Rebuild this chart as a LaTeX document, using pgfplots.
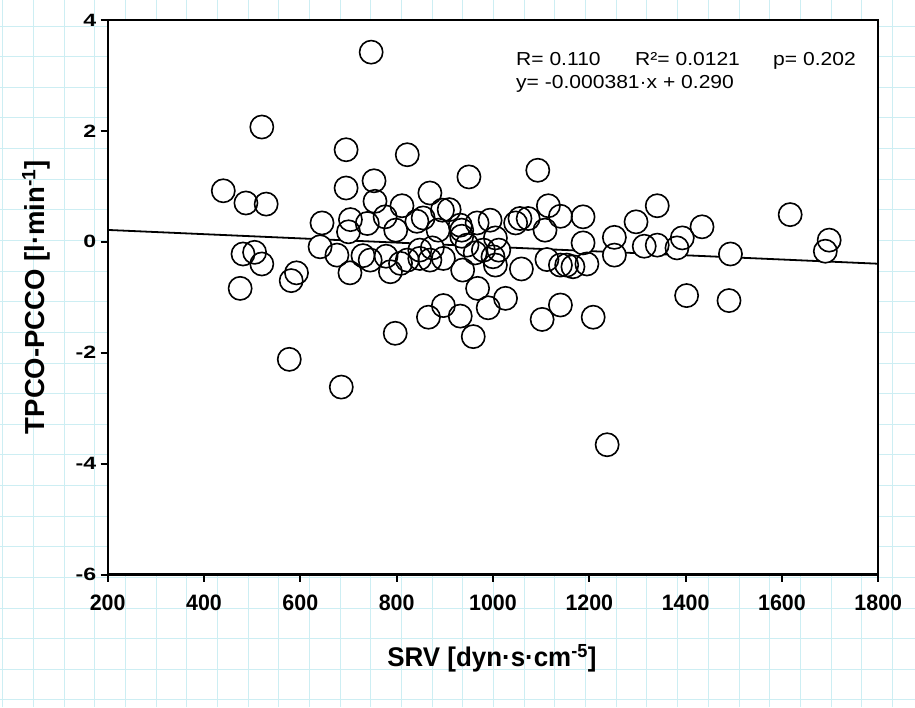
\documentclass[border=0pt]{standalone}
\usepackage{pgfplots}
\pgfplotsset{compat=1.18}
\usepackage{fontspec}
\setmainfont{Liberation Sans}
\newfontfamily\xfont[FakeStretch=0.96]{Liberation Sans}
\newfontfamily\annfont[FakeStretch=1.12]{Liberation Sans}
\newcommand\ys[1]{\scalebox{1.3}[1]{#1}}
\definecolor{paper}{RGB}{205,238,243}
\pgfplotstableread{
x y
747 3.42
520 2.07
695 1.66
822 1.57
1093 1.29
950 1.17
753 1.10
695 0.97
440 0.92
869 0.88
487 0.70
529 0.68
1341 0.65
1617 0.49
1434 0.27
1297 0.36
1698 0.03
1690 -0.17
1493 -0.22
1393 0.07
1382 -0.11
1314 -0.08
1341 -0.06
1252 0.08
1252 -0.24
481 -0.22
505 -0.19
520 -0.40
475 -0.84
592 -0.56
581 -0.70
577 -2.12
685 -2.62
797 -1.65
866 -1.36
897 -1.15
932 -1.34
959 -1.71
968 -0.84
990 -1.19
1026 -1.02
1102 -1.40
1140 -1.14
1208 -1.36
1402 -0.97
1490 -1.06
1237 -3.66
755 0.73
811 0.65
645 0.34
704 0.40
739 0.33
776 0.45
798 0.21
700 0.18
842 0.37
855 0.43
895 0.57
909 0.58
641 -0.09
676 -0.24
730 -0.25
745 -0.33
778 -0.26
703 -0.56
787 -0.54
808 -0.39
848 -0.15
848 -0.30
874 -0.11
886 0.21
897 -0.30
935 0.21
935 0.10
932 0.30
967 0.34
994 0.39
1047 0.34
1056 0.42
1073 0.42
1115 0.65
1140 0.46
1187 0.45
1108 0.21
1187 -0.02
1005 0.07
946 -0.06
963 -0.20
980 -0.15
1012 -0.15
1000 -0.27
937 -0.51
1005 -0.42
1059 -0.49
1112 -0.32
1140 -0.42
1153 -0.42
1166 -0.45
1195 -0.40
822 -0.33
869 -0.33
}\pts
\begin{document}
\begin{tikzpicture}[x=1pt,y=1pt]
\path[use as bounding box] (0,0) rectangle (915,707);
\foreach \k in {0,...,29}{\draw[paper,line width=1pt] ({2.7+30.68*\k},0) -- ({2.7+30.68*\k},707);}
\foreach \k in {0,...,22}{\draw[paper,line width=1pt] (0,{707-26.1-30.63*\k}) -- (915,{707-26.1-30.63*\k});}
\begin{axis}[
  at={(107.7pt,132.5pt)}, anchor=south west,
  width=770.6pt, height=554.5pt, scale only axis,
  xmin=200, xmax=1800, ymin=-6, ymax=4,
  xtick={200,400,600,800,1000,1200,1400,1600,1800},
  xticklabels={200,400,600,800,1000,1200,1400,1600,1800},
  ytick={-6,-4,-2,0,2,4},
  yticklabels={\ys{-6},\ys{-4},\ys{-2},\ys{0},\ys{2},\ys{4}},
  tick align=outside, xtick pos=bottom, ytick pos=left,
  major tick length=7pt,
  every tick/.style={black, line width=2pt},
  axis line style={line width=2.2pt},
  axis background/.style={fill=white},
  xticklabel style={font=\xfont\bfseries\fontsize{22.3}{24}\selectfont, yshift=-10pt},
  yticklabel style={font=\bfseries\fontsize{17.8}{20}\selectfont, xshift=-1pt},
]
\addplot[black, line width=1.8pt] coordinates {(200,0.2138) (1800,-0.3958)};
\addplot[only marks, mark=*, mark size=11.6pt, mark options={draw=none, fill=white}] table[x=x,y=y] {\pts};
\addplot[only marks, mark=o, mark size=11.6pt, mark options={black, line width=1.6pt}] table[x=x,y=y] {\pts};
\end{axis}
\node[font=\annfont\fontsize{18.8}{20}\selectfont, anchor=base west, inner sep=0] at (516,641) {R= 0.110};
\node[font=\annfont\fontsize{18.8}{20}\selectfont, anchor=base west, inner sep=0] at (635,641) {R²= 0.0121};
\node[font=\annfont\fontsize{18.8}{20}\selectfont, anchor=base west, inner sep=0] at (773,641) {p= 0.202};
\node[font=\annfont\fontsize{18.8}{20}\selectfont, anchor=base west, inner sep=0] at (516,618) {y= -0.000381·x + 0.290};
\node[font=\xfont\bfseries\fontsize{27}{30}\selectfont, inner sep=0] at (492,49) {SRV [dyn·s·cm\textsuperscript{-5}]};
\node[font=\bfseries\fontsize{27.5}{30}\selectfont, inner sep=0, rotate=90] at (36,410) {TPCO-PCCO [l·min\textsuperscript{-1}]};
\end{tikzpicture}
\end{document}
